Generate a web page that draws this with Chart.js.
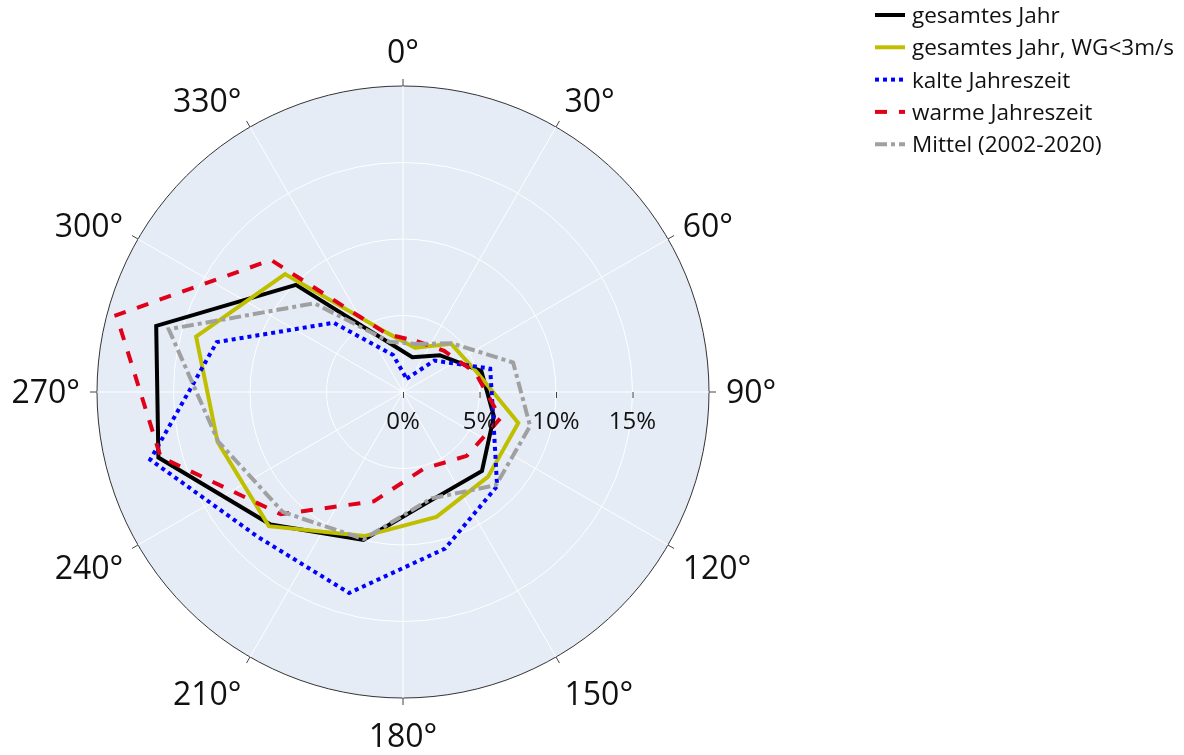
<!DOCTYPE html>
<html>
<head>
<meta charset="utf-8">
<script src="https://cdn.jsdelivr.net/npm/chart.js@4.4.1/dist/chart.umd.min.js"></script>
<style>
  html, body { margin: 0; padding: 0; background: #fff; }
  #wrap { width: 1184px; height: 755px; position: relative; }
</style>
</head>
<body>
<div id="wrap"><canvas id="windRose"></canvas></div>
<script>
// sector centres of the wind directions (degrees, clockwise from north)
const directions = [15, 45, 75, 105, 135, 165, 195, 225, 255, 285, 315, 345];

// frequency per sector in percent
const gesamtesJahr   = [2.35, 3.4, 5.3, 6.15, 7.3, 7.3, 10.0, 12.25, 16.55, 16.7, 9.9, 3.3];
const gesamtesJahrWG = [3.0, 4.45, 5.0, 7.8, 7.85, 8.45, 9.75, 12.4, 12.55, 14.0, 10.9, 4.0];
const kalteZeit      = [0.9, 2.9, 5.9, 6.1, 8.7, 10.6, 13.6, 13.4, 17.1, 12.6, 6.4, 2.5];
const warmeZeit      = [3.45, 3.8, 4.9, 6.6, 5.9, 5.2, 7.4, 11.3, 16.4, 19.4, 12.2, 3.9];
const mittel         = [3.25, 4.5, 7.45, 8.6, 8.6, 7.2, 9.95, 11.1, 12.5, 15.85, 8.2, 3.4];

const seriesNames = ['gesamtes Jahr', 'gesamtes Jahr, WG<3m/s', 'kalte Jahreszeit', 'warme Jahreszeit', 'Mittel (2002-2020)'];

// axis ticks
const angleTicks = [0, 30, 60, 90, 120, 150, 180, 210, 240, 270, 300, 330];
const radialTicks = [0, 5, 10, 15];
const radialMax = 20;

// the radar needs one slot per angle: grid angles + sector centres
const allAngles = angleTicks.concat(directions).sort((a, b) => a - b);
function toSlots(values) {
  return allAngles.map(a => {
    const k = directions.indexOf(a);
    return k < 0 ? null : values[k];
  });
}

const styles = [
  { color: '#000000', dash: [] },
  { color: '#bfbf00', dash: [] },
  { color: '#0000ff', dash: [4, 4] },
  { color: '#e0001a', dash: [12, 12] },
  { color: '#a0a0a0', dash: [12, 4, 4, 4] }
];
const allSeries = [gesamtesJahr, gesamtesJahrWG, kalteZeit, warmeZeit, mittel];

const datasets = allSeries.map((vals, i) => ({
  label: seriesNames[i],
  data: toSlots(vals),
  borderColor: styles[i].color,
  borderDash: styles[i].dash,
  borderWidth: 4,
  pointRadius: 0,
  pointHoverRadius: 0,
  fill: false,
  spanGaps: true,
  order: allSeries.length - i // last trace drawn on top
}));

const textColor = '#111';

// angular labels, tick marks, radial tick labels and legend
const polarDecor = {
  id: 'polarDecor',
  afterDraw(chart) {
    const ctx = chart.ctx;
    const r = chart.scales.r;
    const cx = r.xCenter, cy = r.yCenter, R = r.getDistanceFromCenterForValue(radialMax);
    ctx.save();

    // angle ticks + labels (placed like plotly does)
    const fs = 32, pad = 17;
    ctx.strokeStyle = '#444';
    ctx.lineWidth = 1;
    ctx.fillStyle = textColor;
    ctx.font = fs + 'px "Open Sans"';
    ctx.textBaseline = 'alphabetic';
    angleTicks.forEach(a => {
      const rad = (90 - a) * Math.PI / 180;
      const c = Math.cos(rad), s = Math.sin(rad);
      const px = cx + R * c, py = cy - R * s;
      ctx.beginPath();
      ctx.moveTo(px, py);
      ctx.lineTo(cx + (R + 7) * c, cy - (R + 7) * s);
      ctx.stroke();
      const ff = s > 0 ? 0.2 : 1;
      const x = px + c * pad;
      const y = py - s * (pad + fs * ff) + Math.abs(c) * fs * 0.35;
      ctx.textAlign = Math.abs(c) < 0.1 ? 'center' : (c > 0 ? 'left' : 'right');
      ctx.fillText(a + '°', x, y);
    });

    // radial ticks along the 90° line
    ctx.font = '24px "Open Sans"';
    ctx.textAlign = 'center';
    radialTicks.forEach(v => {
      const x = cx + r.getDistanceFromCenterForValue(v);
      ctx.beginPath();
      ctx.moveTo(x + 0.5, cy);
      ctx.lineTo(x + 0.5, cy + 6);
      ctx.stroke();
      ctx.fillText(v + '%', x, cy + 28 + 0.357 * 24);
    });

    // legend
    ctx.font = '22.5px "Open Sans"';
    ctx.textAlign = 'left';
    seriesNames.forEach((name, i) => {
      const y = 15 + i * 32.3;
      ctx.save();
      ctx.strokeStyle = styles[i].color;
      ctx.lineWidth = 4;
      ctx.setLineDash(styles[i].dash);
      ctx.beginPath();
      ctx.moveTo(875, y);
      ctx.lineTo(905, y);
      ctx.stroke();
      ctx.restore();
      ctx.fillText(name, 912, y + 0.357 * 22.5);
    });
    ctx.restore();
  }
};

new Chart(document.getElementById('windRose'), {
  type: 'radar',
  data: {
    labels: allAngles.map(a => a + '°'),
    datasets: datasets
  },
  options: {
    responsive: true,
    maintainAspectRatio: false,
    animation: false,
    layout: { padding: { left: 97, top: 86, right: 474, bottom: 56 } },
    elements: { line: { tension: 0 } },
    scales: {
      r: {
        min: 0,
        max: radialMax,
        backgroundColor: '#e5ecf6',
        ticks: { display: false, stepSize: 5 },
        pointLabels: { display: false },
        grid: {
          circular: true,
          color: c => (c.tick && c.tick.value === radialMax ? '#333' : '#ffffff'),
          lineWidth: 1
        },
        angleLines: {
          color: '#ffffff',
          lineWidth: c => (angleTicks.includes(allAngles[c.index]) ? 1 : 0)
        }
      }
    },
    plugins: {
      legend: { display: false },
      tooltip: { enabled: false }
    }
  },
  plugins: [polarDecor]
});
</script>
</body>
</html>
